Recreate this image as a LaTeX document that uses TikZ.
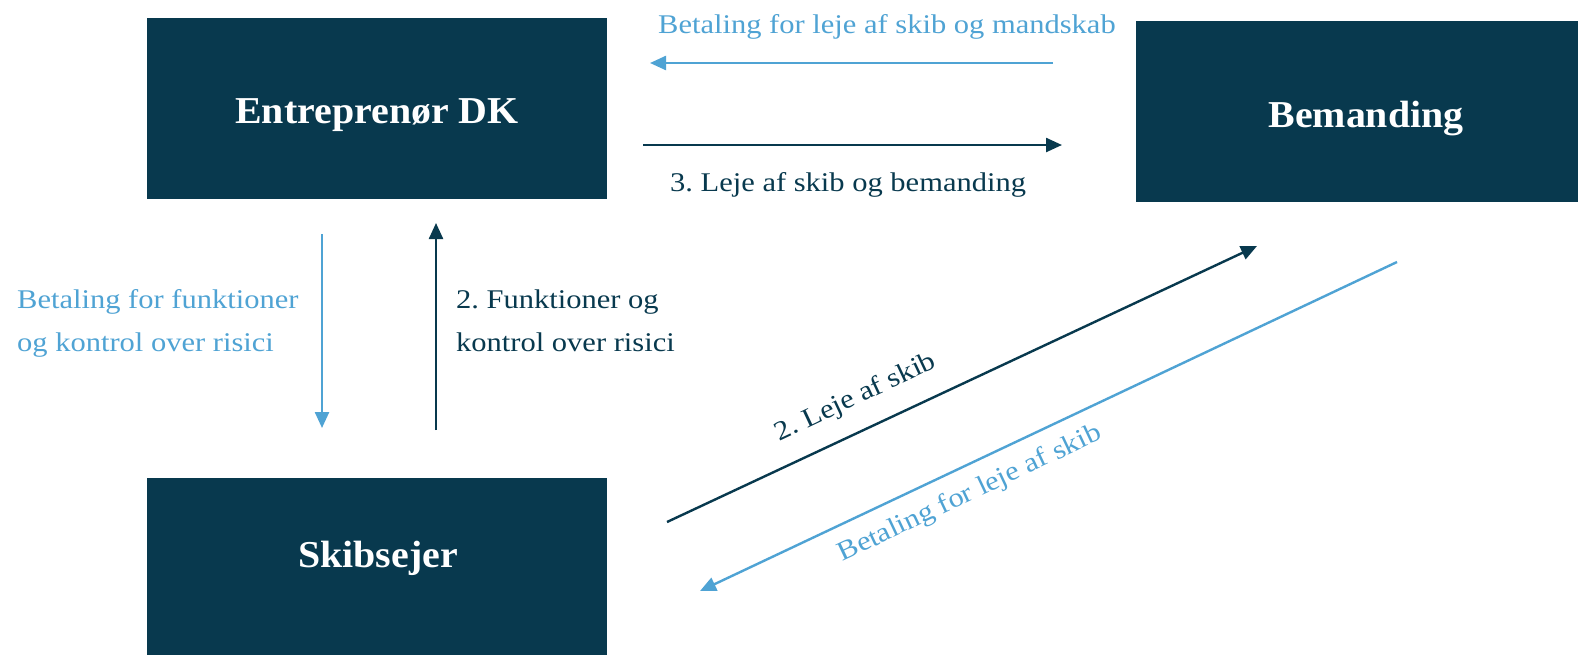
\documentclass[tikz,border=0pt]{standalone}
\usepackage{fontspec}
\setmainfont{Liberation Serif}[FakeStretch=1.13]
\newfontfamily\boxfont{Liberation Serif}[FakeStretch=1.05]
\usetikzlibrary{arrows.meta}
\definecolor{navy}{RGB}{8,57,78}
\definecolor{sky}{RGB}{79,163,212}
\frenchspacing
\begin{document}
\begin{tikzpicture}[x=1pt,y=-1pt,
  box/.style={fill=navy, draw=none, minimum width=460pt, minimum height=181pt, inner sep=0pt},
  boxtext/.style={text=white, inner sep=0pt, font=\boxfont\bfseries\fontsize{38}{44}\selectfont},
  lbl/.style={inner sep=0pt, font=\fontsize{27}{43}\selectfont},
  darklbl/.style={lbl, text=navy},
  lightlbl/.style={lbl, text=sky},
  tip/.style={-{Triangle[length=16pt,width=14pt]}},
  darkarrow/.style={tip, draw=navy, line width=2.4pt},
  lightarrow/.style={tip, draw=sky, line width=2.4pt}]
\clip (0,0) rectangle (1578,654);
\fill[white] (0,0) rectangle (1578,654);

% parties
\node[box] (entre) at (377,108.5) {};
\node[boxtext, anchor=base] (entretxt) at (377,123) {Entreprenør DK};
\node[box] (beman) at (1366,111.5) {};
\node[boxtext, anchor=base] (bemantxt) at (1366,127) {Bemanding};
\node[box] (skib) at (377,568.5) {};
\node[boxtext, anchor=base] (skibtxt) at (378,567) {Skibsejer};

% arrow end points
\coordinate (payTopS) at (1053,63);
\coordinate (payTopE) at (650,63);
\coordinate (rentTopS) at (643,145);
\coordinate (rentTopE) at (1062,145);
\coordinate (payLeftS) at (322,234);
\coordinate (payLeftE) at (322,428);
\coordinate (funcS) at (436,430);
\coordinate (funcE) at (436,223);
\coordinate (shipS) at (667,522);
\coordinate (shipE) at (1257,246);
\coordinate (payShipS) at (1397,262);
\coordinate (payShipE) at (700,591);

\draw[lightarrow] (payTopS) -- (payTopE);
\draw[darkarrow] (rentTopS) -- (rentTopE);
\draw[lightarrow] (payLeftS) -- (payLeftE);
\draw[darkarrow] (funcS) -- (funcE);
\draw[darkarrow] (shipS) -- (shipE);
\draw[lightarrow] (payShipS) -- (payShipE);

% labels
\node[lightlbl, anchor=base west] (payTopL) at (658,33) {Betaling for leje af skib og mandskab};
\node[darklbl, anchor=base west] (rentTopL) at (670,191) {3. Leje af skib og bemanding};
\node[lightlbl, anchor=base west] (payLeftL1) at (17,308) {Betaling for funktioner};
\node[lightlbl, anchor=base west] (payLeftL2) at (17,351) {og kontrol over risici};
\node[darklbl, anchor=base west] (funcL1) at (456,308) {2. Funktioner og};
\node[darklbl, anchor=base west] (funcL2) at (456,351) {kontrol over risici};
\node[darklbl, rotate=25.2] (shipL) at (856,398) {2. Leje af skib};
\node[lightlbl, rotate=25.3] (payShipL) at (970,494) {Betaling for leje af skib};
\end{tikzpicture}
\end{document}
